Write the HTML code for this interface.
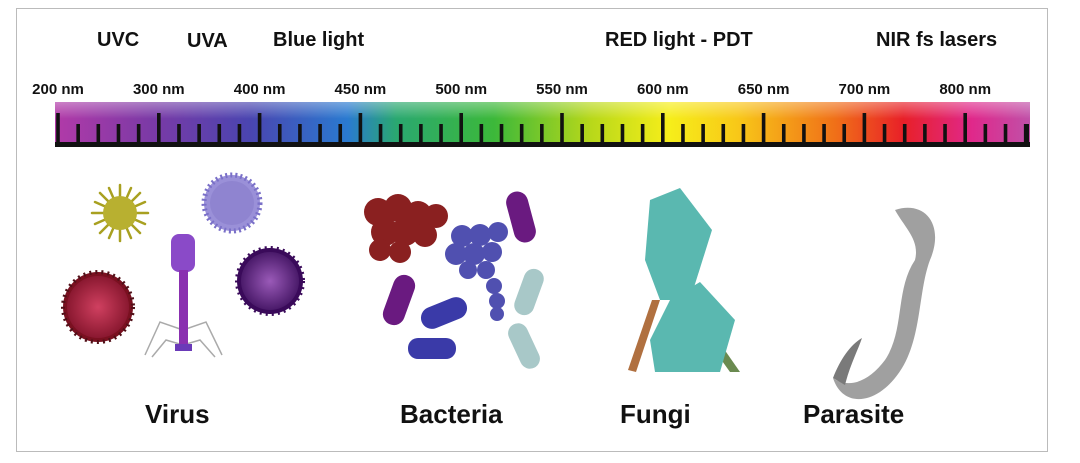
<!DOCTYPE html><html><head><style>body{margin:0;background:#fff}svg{display:block}text{font-family:"Liberation Sans",Arial,sans-serif;font-weight:bold;fill:#111}</style></head><body>
<svg width="1080" height="463" viewBox="0 0 1080 463" xmlns="http://www.w3.org/2000/svg">
<defs>
<linearGradient id="sp" x1="0" x2="1" y1="0" y2="0">
<stop offset="0" stop-color="#b23aa8"/><stop offset="0.1" stop-color="#7a3aa6"/><stop offset="0.2" stop-color="#4a45b0"/><stop offset="0.3" stop-color="#2a7ad0"/><stop offset="0.35" stop-color="#2aa870"/><stop offset="0.45" stop-color="#3cb83a"/><stop offset="0.55" stop-color="#b8d81a"/><stop offset="0.63" stop-color="#f6ee1a"/><stop offset="0.7" stop-color="#f8c818"/><stop offset="0.8" stop-color="#f07018"/><stop offset="0.87" stop-color="#e82028"/><stop offset="0.94" stop-color="#e0288a"/><stop offset="1" stop-color="#c050a8"/>
</linearGradient>
<radialGradient id="rg"><stop offset="0" stop-color="#d04060"/><stop offset="1" stop-color="#8a1830"/></radialGradient>
<radialGradient id="dp"><stop offset="0" stop-color="#9a5ab8"/><stop offset="1" stop-color="#4a1a6a"/></radialGradient>
<linearGradient id="gr" x1="0" x2="0" y1="0" y2="1"><stop offset="0" stop-color="#fff" stop-opacity=".35"/><stop offset=".4" stop-color="#fff" stop-opacity="0"/></linearGradient>
</defs>
<rect x="16.5" y="8.5" width="1031" height="443" fill="#fff" stroke="#bbb"/>
<text x="97" y="46" font-size="20">UVC</text>
<text x="187" y="47" font-size="20">UVA</text>
<text x="273" y="46" font-size="20">Blue light</text>
<text x="605" y="46" font-size="20">RED light - PDT</text>
<text x="876" y="46" font-size="20">NIR fs lasers</text>
<g font-size="15" text-anchor="middle" id="lbl"></g>
<rect x="55" y="102" width="975" height="42" fill="url(#sp)"/>
<rect x="55" y="102" width="975" height="42" fill="url(#gr)"/>
<g id="ticks" fill="#111"></g>
<rect x="55" y="142" width="975" height="5" fill="#111"/>
<g stroke="#a8a020" stroke-width="2.5" stroke-linecap="round">
<line x1="92" y1="213" x2="148" y2="213"/><line x1="120" y1="185" x2="120" y2="241"/><line x1="100" y1="193" x2="140" y2="233"/><line x1="100" y1="233" x2="140" y2="193"/><line x1="95" y1="202" x2="145" y2="224"/><line x1="109" y1="188" x2="131" y2="238"/><line x1="95" y1="224" x2="145" y2="202"/><line x1="109" y1="238" x2="131" y2="188"/></g>
<circle cx="120" cy="213" r="17" fill="#b8b030"/>
<circle cx="232" cy="203" r="28" fill="#9a90d8" stroke="#7a70c8" stroke-width="5" stroke-dasharray="2 3"/>
<circle cx="232" cy="203" r="22" fill="#8f84d0"/>
<circle cx="98" cy="307" r="35" fill="#7a1020" stroke="#501018" stroke-width="4" stroke-dasharray="2 4"/>
<circle cx="98" cy="307" r="31" fill="url(#rg)"/>
<circle cx="270" cy="281" r="33" fill="#3a0a5a" stroke="#3a0a5a" stroke-width="4" stroke-dasharray="2 4"/>
<circle cx="270" cy="281" r="29" fill="url(#dp)"/>
<g stroke="#aaa" stroke-width="1.5" fill="none"><path d="M183 330 L160 322 L145 355"/><path d="M183 330 L206 322 L222 355"/><path d="M183 345 L166 340 L152 357"/><path d="M183 345 L200 340 L215 357"/></g>
<rect x="171" y="234" width="24" height="38" rx="8" fill="#8a4ac8"/>
<rect x="179" y="270" width="9" height="78" fill="#8a30b0"/>
<rect x="175" y="344" width="17" height="7" fill="#6a3ab8"/>
<g fill="#8a2020"><circle cx="378" cy="212" r="14"/><circle cx="398" cy="208" r="14"/><circle cx="418" cy="215" r="14"/><circle cx="436" cy="216" r="12"/><circle cx="385" cy="232" r="14"/><circle cx="405" cy="232" r="14"/><circle cx="425" cy="235" r="12"/><circle cx="380" cy="250" r="11"/><circle cx="400" cy="252" r="11"/></g>
<g fill="#5050b0"><circle cx="462" cy="236" r="11"/><circle cx="480" cy="235" r="11"/><circle cx="498" cy="232" r="10"/><circle cx="456" cy="254" r="11"/><circle cx="474" cy="254" r="11"/><circle cx="492" cy="252" r="10"/><circle cx="468" cy="270" r="9"/><circle cx="486" cy="270" r="9"/><circle cx="494" cy="286" r="8"/><circle cx="497" cy="301" r="8"/><circle cx="497" cy="314" r="7"/></g>
<g fill="#6a1a80"><rect x="-11" y="-26" width="22" height="52" rx="11" transform="translate(521 217) rotate(-15)"/><rect x="-11" y="-26" width="22" height="52" rx="11" transform="translate(399 300) rotate(20)"/></g>
<g fill="#3a3aa8"><rect x="-24" y="-11" width="48" height="22" rx="11" transform="translate(444 313) rotate(-22)"/><rect x="-24" y="-10" width="48" height="21" rx="10" transform="translate(432 348)"/></g>
<g fill="#a8c8c8"><rect x="-10" y="-24" width="20" height="48" rx="10" transform="translate(529 292) rotate(20)"/><rect x="-10" y="-24" width="20" height="48" rx="10" transform="translate(524 346) rotate(-25)"/></g>
<path d="M628 370 L652 300 L660 300 L636 372 Z" fill="#b07040"/>
<path d="M730 372 L700 330 L708 326 L740 372 Z" fill="#6a8a50"/>
<g fill="#5ab8b0"><path d="M650 200 L680 188 L712 230 L690 300 L660 300 L645 260 Z"/><path d="M670 300 L700 282 L735 320 L720 372 L655 372 L650 340 Z"/></g>
<path d="M895 210 C925 200 945 225 930 260 C915 300 925 360 880 392 C860 405 840 400 833 378 C850 390 870 380 885 360 C905 330 895 290 915 260 C920 240 905 228 895 210 Z" fill="#a0a0a0"/>
<path d="M833 378 C840 360 850 345 862 338 C858 350 850 365 845 385 Z" fill="#7a7a7a"/>
<text x="145" y="423" font-size="26">Virus</text>
<text x="400" y="423" font-size="26">Bacteria</text>
<text x="620" y="423" font-size="26">Fungi</text>
<text x="803" y="423" font-size="26">Parasite</text>
</svg>
<script>
var ns="http://www.w3.org/2000/svg",t=document.getElementById("ticks"),l=document.getElementById("lbl");
var labs=["200","300","400","450","500","550","600","650","700","800"];
for(var i=0;i<49;i++){var x=58+i*20.16;var major=i%5==0;var r=document.createElementNS(ns,"rect");
r.setAttribute("x",x-1.8);r.setAttribute("width",3.6);r.setAttribute("y",major?113:124);r.setAttribute("height",major?31:20);t.appendChild(r);
if(major){var tx=document.createElementNS(ns,"text");tx.setAttribute("x",x);tx.setAttribute("y",94);tx.textContent=labs[i/5]+" nm";l.appendChild(tx);}}
var r=document.createElementNS(ns,"rect");r.setAttribute("x",1025);r.setAttribute("width",4);r.setAttribute("y",124);r.setAttribute("height",20);t.appendChild(r);
</script>
</body></html>
